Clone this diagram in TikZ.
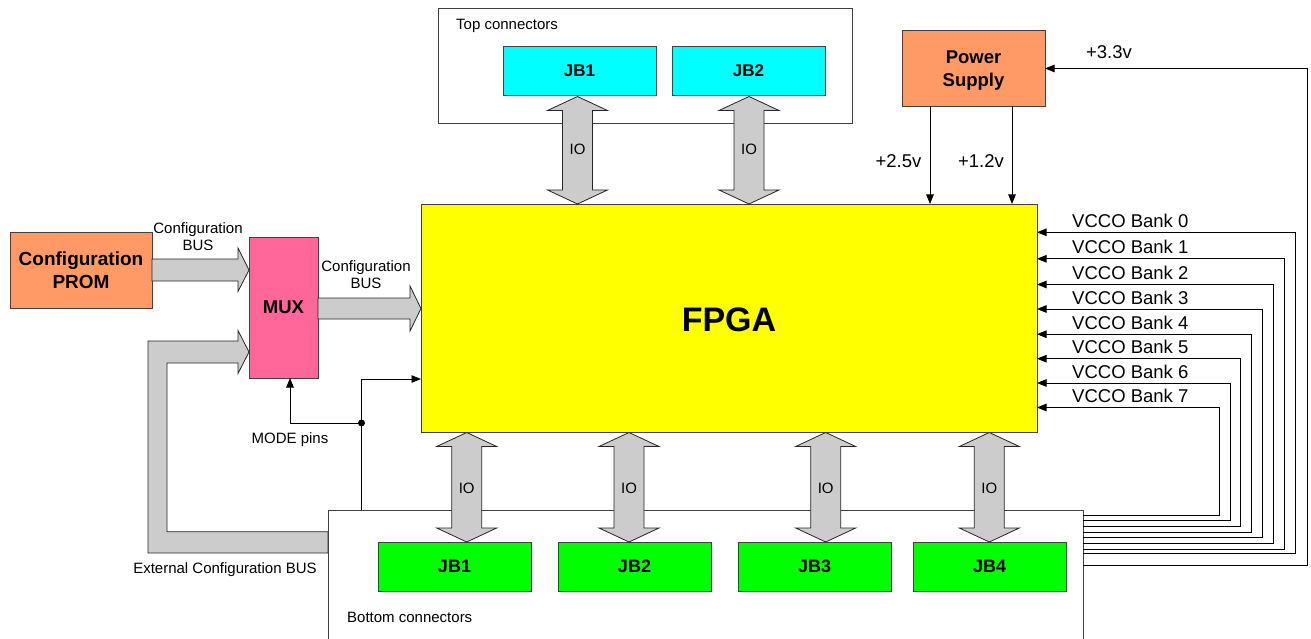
\documentclass[tikz,border=0pt]{standalone}
\usepackage{fontspec}
\setmainfont{Liberation Sans}
\usetikzlibrary{arrows.meta,calc}
\definecolor{fpgay}{HTML}{FFFF00}
\definecolor{orng}{HTML}{FF9966}
\definecolor{pnk}{HTML}{FF6699}
\definecolor{cyn}{HTML}{00FFFF}
\definecolor{grn}{HTML}{00FF00}
\definecolor{busgray}{HTML}{CCCCCC}
\definecolor{edge}{HTML}{404040}
\newcommand\ioarr[5]{% cx, ytop, ybot, name, label y
  \draw[bus] (#1,#2) -- ++(30,14) -- ++(-15,0) -- (#1+15,#3-14) -- ++(15,0) -- (#1,#3)
    -- ++(-30,-14) -- ++(15,0) -- (#1-15,#2+14) -- ++(-15,0) -- cycle;
  \node[lbl] (#4) at (#1,#5) {IO};
}
\begin{document}
\begin{tikzpicture}[x=1pt,y=-1pt,
  blk/.style={draw=edge, line width=0.8pt, inner sep=0pt, outer sep=0pt, anchor=north west, align=center},
  lbl/.style={inner sep=0pt, font=\fontsize{15}{17}\selectfont},
  big/.style={inner sep=0pt, font=\fontsize{18.5}{20}\selectfont},
  bus/.style={fill=busgray, draw=black!85, line width=0.8pt, line join=miter},
  wire/.style={draw=black, line width=0.9pt},
  arr/.style={-{Triangle[length=9.5pt,width=7.5pt]}}
]
\useasboundingbox (0,0) rectangle (1311,639);

% boxes
\node[blk, fill=white, minimum width=414, minimum height=115] (topbox) at (438,8) {};
\node[lbl, anchor=west] (toplbl) at (456,26) {Top connectors};
\node[blk, fill=cyn, minimum width=153, minimum height=49, font=\bfseries\fontsize{17}{19}\selectfont] (tjb1) at (503,46) {JB1};
\node[blk, fill=cyn, minimum width=153, minimum height=49, font=\bfseries\fontsize{17}{19}\selectfont] (tjb2) at (672,46) {JB2};

\node[blk, fill=fpgay, minimum width=616, minimum height=228] (fpga) at (421,204) {};
\node[inner sep=0pt, font=\bfseries\fontsize{34}{38}\selectfont] (fpgalbl) at ([yshift=-2]fpga.center) {FPGA};
\node[blk, fill=orng, minimum width=143, minimum height=76] (power) at (902,30) {};
\node[inner sep=0pt, align=center, font=\bfseries\fontsize{18.5}{23}\selectfont] (powlbl) at ([yshift=-2.5]power.center) {Power\\Supply};
\node[blk, fill=orng, minimum width=142, minimum height=76, font=\bfseries\fontsize{19}{23}\selectfont] (prom) at (10,232) {Configuration\\PROM};
\node[blk, fill=pnk, minimum width=69, minimum height=141, font=\bfseries\fontsize{18.5}{21}\selectfont] (mux) at (249,237) {MUX};

\node[blk, fill=white, minimum width=755, minimum height=140] (botbox) at (328,510) {};
\node[lbl, anchor=west] (botlbl) at (347,617) {Bottom connectors};
\foreach \n/\x in {1/378,2/558,3/738,4/913}{
  \node[blk, fill=grn, minimum width=153, minimum height=49, font=\bfseries\fontsize{18}{20}\selectfont] (bjb\n) at (\x,542) {JB\n};
}

% IO arrows
\ioarr{577.5}{96.5}{204}{io1}{149}
\ioarr{749}{96.5}{204}{io2}{149}
\ioarr{466.7}{432.5}{542}{io3}{488}
\ioarr{629}{432.5}{542}{io4}{488}
\ioarr{825.7}{432.5}{542}{io5}{488}
\ioarr{989.3}{432.5}{542}{io6}{488}

% configuration buses
\draw[bus] (152,259) -- (238,259) -- (238,248) -- (249,270) -- (238,291.5) -- (238,281) -- (152,281) -- cycle;
\node[lbl, align=center] (cb1) at (198,236.5) {Configuration\\BUS};
\draw[bus] (318,298) -- (410,298) -- (410,286) -- (421,308.5) -- (410,331) -- (410,319) -- (318,319) -- cycle;
\node[lbl, align=center] (cb2) at (366,275) {Configuration\\BUS};

% external configuration bus
\draw[bus] (328,531.7) -- (167,531.7) -- (167,363) -- (238,363) -- (238,373.5) -- (249,352) -- (238,330.5)
  -- (238,341) -- (148,341) -- (148,553) -- (328,553) -- cycle;
\node[lbl] (extlbl) at (225,570) {External Configuration BUS};

% mode pins
\coordinate (dot) at (361.5,423);
\coordinate (modein) at (290,378);
\coordinate (fpgain) at (421,379);
\draw[wire, arr] (dot) -| (mux.south -| modein);
\draw[wire, arr] (dot |- botbox.north) -- (dot |- fpgain) -- (fpga.west |- fpgain);
\fill (dot) circle (3.5);
\node[lbl] (modelbl) at (290,440) {MODE pins};

% power
\coordinate (p25) at (930,0);
\coordinate (p12) at (1012,0);
\draw[wire, arr] (power.south -| p25) -- (fpga.north -| p25);
\draw[wire, arr] (power.south -| p12) -- (fpga.north -| p12);
\node[big] (l25) at (898.5,161) {+2.5v};
\node[big] (l12) at (981,161) {+1.2v};

\coordinate (v33b) at (0,565.7);
\coordinate (v33t) at (0,68.5);
\draw[wire, arr] (botbox.east |- v33b) -| (1307,68.5) -- (power.east |- v33t);
\node[big] (l33) at (1109,52) {+3.3v};

% VCCO banks
\foreach \i/\yi/\xv/\yb in {0/232.3/1295.7/553.3, 1/258.8/1284/549, 2/284.5/1273.7/543.3, 3/309/1262.3/537.7,
  4/334.2/1251.7/532.3, 5/358.7/1240.7/526.3, 6/383/1230/520.7, 7/407.5/1219/515}{
  \coordinate (vb\i) at (0,\yb);
  \coordinate (vi\i) at (0,\yi);
  \draw[wire, arr] (botbox.east |- vb\i) -| (\xv,\yi) -- (fpga.east |- vi\i);
  \node[big, anchor=west] (vl\i) at (1072,\yi-11.5) {VCCO Bank \i};
}
\end{tikzpicture}
\end{document}
